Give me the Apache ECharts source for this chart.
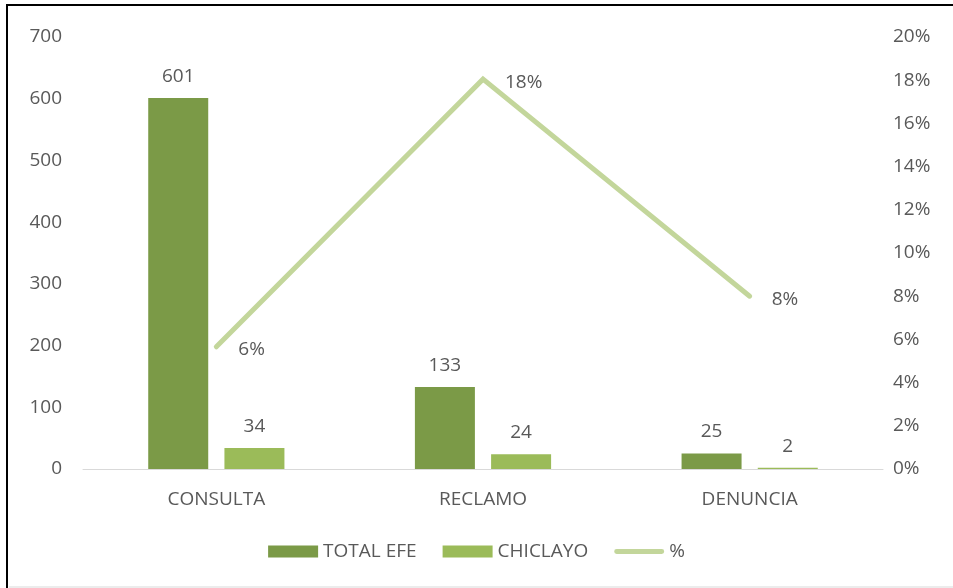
<!DOCTYPE html>
<html>
<head>
<meta charset="utf-8">
<script src="https://cdn.jsdelivr.net/npm/echarts@6/dist/echarts.min.js"></script>
<style>
html,body{margin:0;padding:0;background:#fff;}
#c{width:953px;height:588px;}
</style>
</head>
<body>
<div id="c"></div>
<script>
const categories = ['CONSULTA', 'RECLAMO', 'DENUNCIA'];
const totalEfe = [601, 133, 25];
const chiclayo = [34, 24, 2];
const percent = [5.66, 18.05, 8.0];
const leftTicks = [0, 100, 200, 300, 400, 500, 600, 700];
const rightTicks = [0, 2, 4, 6, 8, 10, 12, 14, 16, 18, 20];

const FONT = '"Open Sans", "Noto Sans", sans-serif';
const TXT = '#595959';
const FS = 19;

const chart = echarts.init(document.getElementById('c'), null, {renderer: 'canvas'});
chart.setOption({
  animation: false,
  backgroundColor: '#fff',
  textStyle: {fontFamily: FONT, color: TXT},
  grid: {left: 83, right: 70, top: 37, bottom: 119, containLabel: false},
  legend: {
    bottom: 22, left: 'center',
    itemWidth: 50, itemHeight: 12, itemGap: 26,
    textStyle: {fontFamily: FONT, fontSize: FS, color: TXT},
    data: [
      {name: 'TOTAL EFE', icon: 'rect'},
      {name: 'CHICLAYO', icon: 'rect'},
      {name: '%', icon: 'path://M2,0 L48,0 A2,2 0 0 1 48,5 L2,5 A2,2 0 0 1 2,0 Z', itemStyle: {color: '#c3d69b'}}
    ]
  },
  xAxis: {
    type: 'category', data: categories,
    axisLine: {lineStyle: {color: '#d9d9d9', width: 1}},
    axisTick: {show: false},
    axisLabel: {fontFamily: FONT, fontSize: FS, color: TXT, margin: 21}
  },
  yAxis: [
    {
      type: 'value', min: leftTicks[0], max: leftTicks[leftTicks.length - 1], interval: 100,
      splitLine: {show: false}, axisLine: {show: false}, axisTick: {show: false},
      axisLabel: {fontFamily: FONT, fontSize: FS, color: TXT, margin: 21}
    },
    {
      type: 'value', min: rightTicks[0], max: rightTicks[rightTicks.length - 1], interval: 2,
      splitLine: {show: false}, axisLine: {show: false}, axisTick: {show: false},
      axisLabel: {fontFamily: FONT, fontSize: FS, color: TXT, margin: 10, align: 'left', formatter: '{value}%'}
    }
  ],
  series: [
    {
      name: 'TOTAL EFE', type: 'bar', data: totalEfe, barWidth: 60, barGap: '27%',
      itemStyle: {color: '#7b9a47'},
      label: {show: true, position: 'top', distance: 12, fontFamily: FONT, fontSize: FS, color: TXT}
    },
    {
      name: 'CHICLAYO', type: 'bar', data: chiclayo, barWidth: 60,
      itemStyle: {color: '#9bbb59'},
      label: {show: true, position: 'top', distance: 12, fontFamily: FONT, fontSize: FS, color: TXT}
    },
    {
      name: '%', type: 'line', yAxisIndex: 1, data: percent,
      symbol: 'circle', symbolSize: 0, showSymbol: true,
      lineStyle: {color: '#c3d69b', width: 5, cap: 'round', join: 'miter'},
      itemStyle: {color: '#c3d69b'},
      label: {
        show: true, position: 'right', distance: 22, offset: [0, 3],
        fontFamily: FONT, fontSize: FS, color: TXT,
        formatter: p => Math.round(p.value) + '%'
      }
    }
  ],
  graphic: [
    {type: 'line', shape: {x1: 6, y1: 5, x2: 953, y2: 5}, style: {stroke: '#000', lineWidth: 2}},
    {type: 'line', shape: {x1: 7, y1: 4, x2: 7, y2: 588}, style: {stroke: '#000', lineWidth: 2}},
    {type: 'line', shape: {x1: 9, y1: 587, x2: 953, y2: 587}, style: {stroke: '#d9d9d9', lineWidth: 1}}
  ]
});
</script>
</body>
</html>
